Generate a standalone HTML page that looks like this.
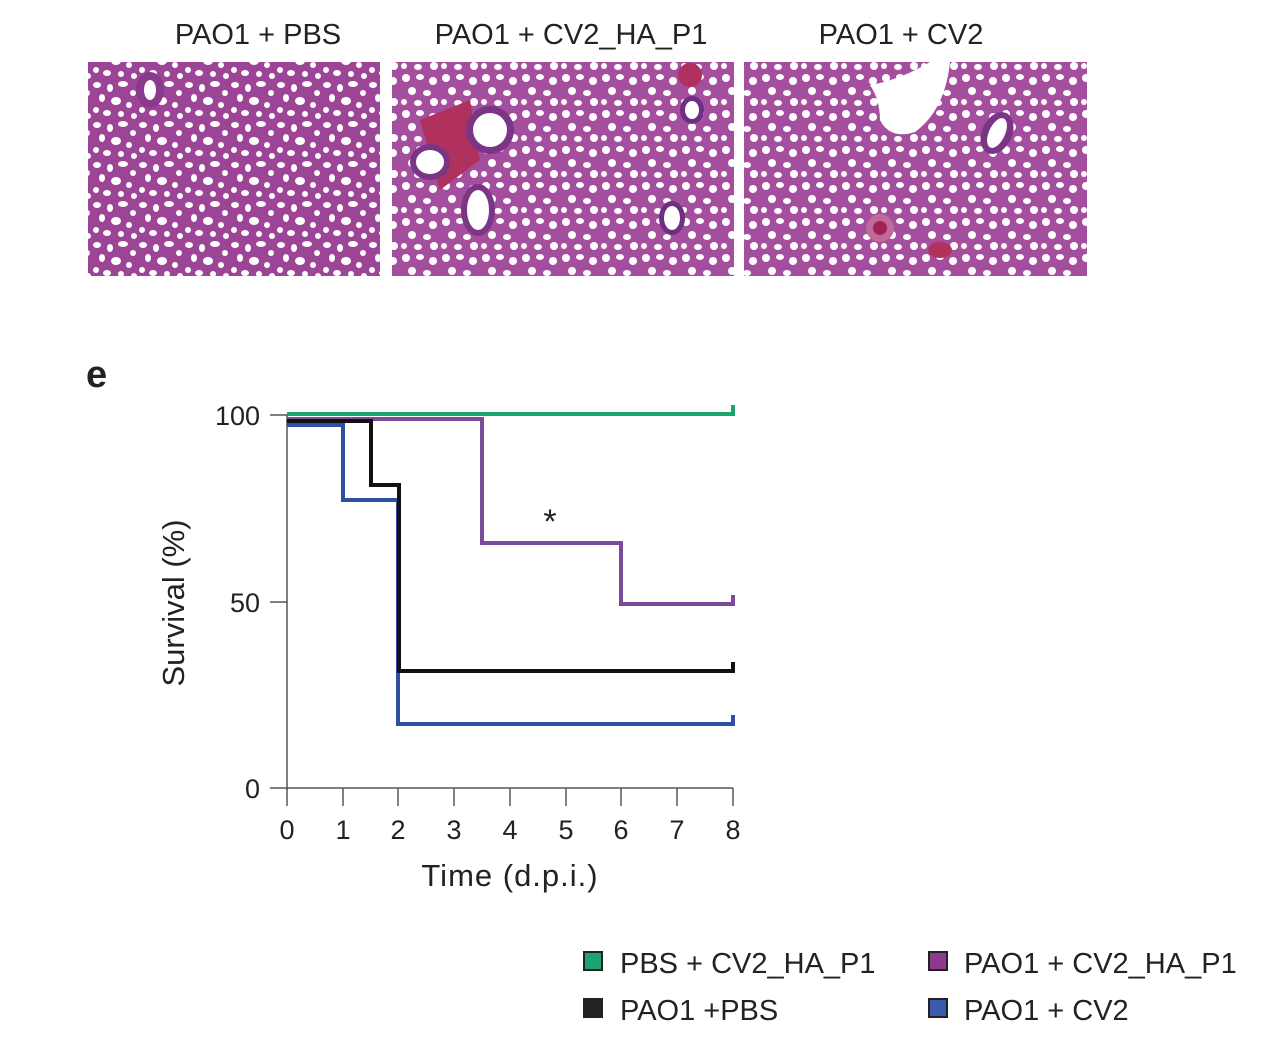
<!DOCTYPE html>
<html><head><meta charset="utf-8"><style>
html,body{margin:0;padding:0;background:#fff;}
svg{display:block;}
text{font-family:"Liberation Sans",sans-serif;fill:#222;}
</style></head><body>
<svg width="1269" height="1043" viewBox="0 0 1269 1043" xmlns="http://www.w3.org/2000/svg">
<defs>
<pattern id="tis" width="46" height="40" patternUnits="userSpaceOnUse">
<rect width="46" height="40" fill="#9c4496"/>
<g fill="#fff">
<ellipse cx="5" cy="5" rx="4" ry="3"/>
<ellipse cx="18" cy="8" rx="3" ry="4"/>
<ellipse cx="31" cy="4" rx="5" ry="3"/>
<ellipse cx="41" cy="13" rx="3" ry="3"/>
<ellipse cx="10" cy="18" rx="3" ry="4"/>
<ellipse cx="24" cy="21" rx="5" ry="4"/>
<ellipse cx="37" cy="25" rx="3" ry="3"/>
<ellipse cx="4" cy="30" rx="3" ry="3"/>
<ellipse cx="15" cy="33" rx="4" ry="3"/>
<ellipse cx="29" cy="34" rx="3" ry="3"/>
<ellipse cx="42" cy="36" rx="3" ry="3"/>
</g>
</pattern>
<pattern id="tis2" width="40" height="36" patternUnits="userSpaceOnUse">
<rect width="40" height="36" fill="#a44e9e"/>
<g fill="#fff">
<ellipse cx="6" cy="6" rx="4" ry="4"/>
<ellipse cx="20" cy="5" rx="4" ry="3"/>
<ellipse cx="33" cy="9" rx="4" ry="4"/>
<ellipse cx="12" cy="19" rx="4" ry="4"/>
<ellipse cx="27" cy="21" rx="4" ry="3"/>
<ellipse cx="4" cy="30" rx="3" ry="3"/>
<ellipse cx="18" cy="31" rx="4" ry="3"/>
<ellipse cx="34" cy="30" rx="4" ry="4"/>
</g>
</pattern>
</defs>

<g font-size="29" text-anchor="middle">
<text x="258" y="44">PAO1 + PBS</text>
<text x="571" y="44">PAO1 + CV2_HA_P1</text>
<text x="901" y="44">PAO1 + CV2</text>
</g>

<rect x="88" y="62" width="292" height="214" fill="url(#tis)"/>
<ellipse cx="150" cy="90" rx="14" ry="18" fill="#8a3a8a"/>
<ellipse cx="150" cy="90" rx="6" ry="10" fill="#fff"/>
<rect x="392" y="62" width="342" height="214" fill="url(#tis2)"/>
<path d="M420 120 L470 100 L480 160 L440 190 Z" fill="#b0305e"/>
<circle cx="490" cy="130" r="24" fill="#7a3585"/><circle cx="490" cy="130" r="17" fill="#fff"/>
<ellipse cx="430" cy="162" rx="20" ry="18" fill="#7a3585"/><ellipse cx="430" cy="162" rx="14" ry="12" fill="#fff"/>
<ellipse cx="478" cy="210" rx="17" ry="26" fill="#7a3585"/><ellipse cx="478" cy="210" rx="11" ry="20" fill="#fff"/>
<ellipse cx="672" cy="218" rx="13" ry="17" fill="#6e2f80"/><ellipse cx="672" cy="218" rx="8" ry="12" fill="#fff"/>
<ellipse cx="692" cy="110" rx="12" ry="14" fill="#6e2f80"/><ellipse cx="692" cy="110" rx="7" ry="9" fill="#fff"/>
<ellipse cx="690" cy="75" rx="12" ry="12" fill="#b0305e"/>
<rect x="744" y="62" width="343" height="214" fill="url(#tis2)"/>
<path d="M870 85 Q900 80 930 62 L950 62 Q945 110 915 132 Q890 140 880 120 Q880 100 870 85 Z" fill="#fff"/>
<ellipse cx="997" cy="133" rx="15" ry="22" fill="#7a3585" transform="rotate(25 997 133)"/>
<ellipse cx="997" cy="133" rx="8" ry="16" fill="#fff" transform="rotate(25 997 133)"/>
<circle cx="880" cy="228" r="14" fill="#c06a98"/><circle cx="880" cy="228" r="7" fill="#a0205a"/>
<ellipse cx="940" cy="250" rx="12" ry="8" fill="#b0305e"/>

<text x="86" y="387" font-size="38" font-weight="bold" fill="#111">e</text>

<g stroke="#555" stroke-width="1.5" fill="none">
<line x1="287" y1="415" x2="287" y2="790"/>
<line x1="270" y1="788" x2="733" y2="788"/>
<line x1="270" y1="415" x2="287" y2="415"/>
<line x1="270" y1="602" x2="287" y2="602"/>
<line x1="287" y1="788" x2="287" y2="806"/>
<line x1="343" y1="788" x2="343" y2="806"/>
<line x1="398" y1="788" x2="398" y2="806"/>
<line x1="454" y1="788" x2="454" y2="806"/>
<line x1="510" y1="788" x2="510" y2="806"/>
<line x1="566" y1="788" x2="566" y2="806"/>
<line x1="621" y1="788" x2="621" y2="806"/>
<line x1="677" y1="788" x2="677" y2="806"/>
<line x1="733" y1="788" x2="733" y2="806"/>
</g>
<g font-size="27" text-anchor="end">
<text x="260" y="425">100</text>
<text x="260" y="612">50</text>
<text x="260" y="798">0</text>
</g>
<g font-size="27" text-anchor="middle">
<text x="287" y="839">0</text><text x="343" y="839">1</text><text x="398" y="839">2</text>
<text x="454" y="839">3</text><text x="510" y="839">4</text><text x="566" y="839">5</text>
<text x="621" y="839">6</text><text x="677" y="839">7</text><text x="733" y="839">8</text>
</g>
<text x="510" y="886" font-size="31" text-anchor="middle" letter-spacing="1">Time (d.p.i.)</text>
<text transform="translate(184 603) rotate(-90)" font-size="31" text-anchor="middle">Survival (%)</text>

<g fill="none" stroke-width="4">
<polyline stroke="#2f4fa3" points="287,425 343,425 343,500 398,500 398,724 733,724 733,715"/>
<polyline stroke="#7b4b98" points="287,419 482,419 482,543 621,543 621,604 733,604 733,595"/>
<polyline stroke="#111" points="287,421 371,421 371,485 399,485 399,671 733,671 733,662"/>
<polyline stroke="#1aa56e" points="287,414 733,414 733,405"/>
</g>
<text x="550" y="533" font-size="34" text-anchor="middle">*</text>

<g stroke="#222" stroke-width="2">
<rect x="584" y="952" width="18" height="18" fill="#1aa56e"/>
<rect x="929" y="952" width="18" height="18" fill="#8e3a8c"/>
<rect x="584" y="999" width="18" height="18" fill="#222"/>
<rect x="929" y="999" width="18" height="18" fill="#3a5aab"/>
</g>
<g font-size="29">
<text x="620" y="973">PBS + CV2_HA_P1</text>
<text x="964" y="973">PAO1 + CV2_HA_P1</text>
<text x="620" y="1020">PAO1 +PBS</text>
<text x="964" y="1020">PAO1 + CV2</text>
</g>
</svg>
</body></html>
